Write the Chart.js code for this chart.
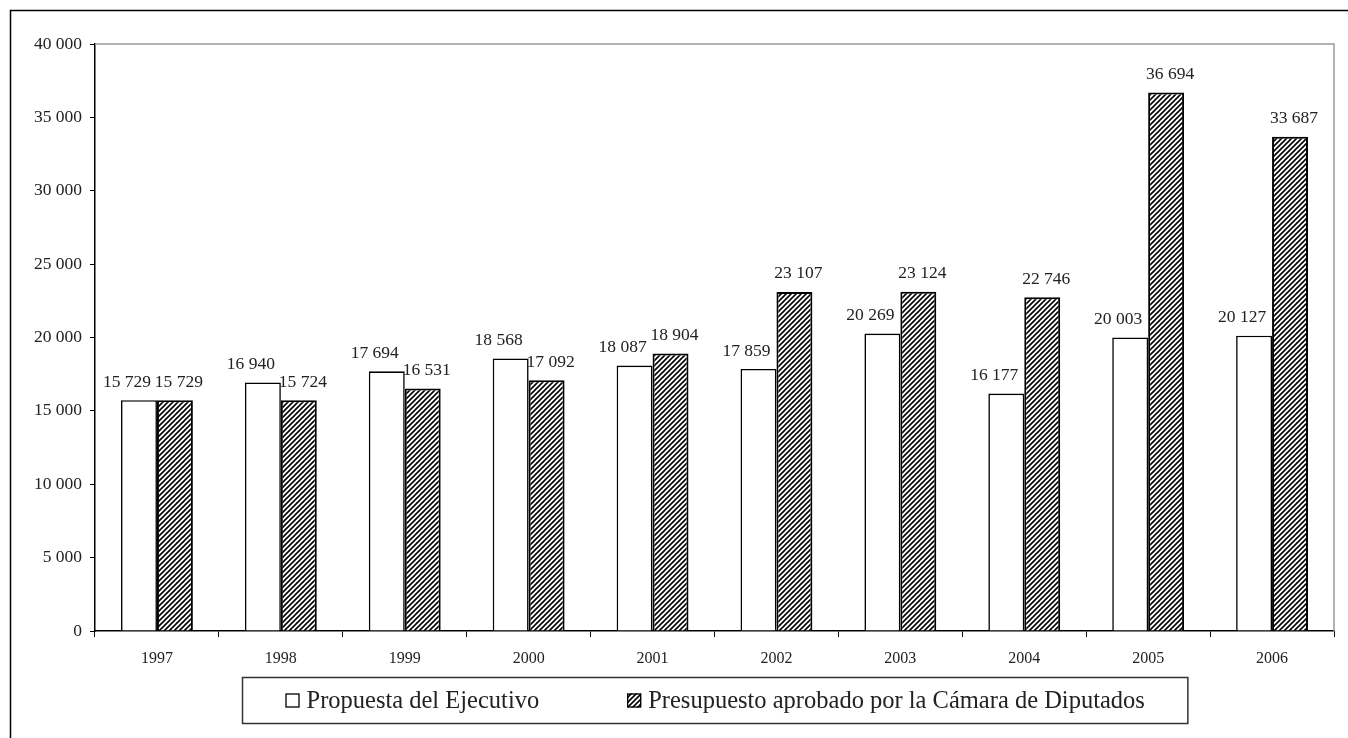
<!DOCTYPE html>
<html>
<head>
<meta charset="utf-8">
<script src="https://cdn.jsdelivr.net/npm/chart.js@4.4.1/dist/chart.umd.min.js"></script>
<style>
  html, body { margin: 0; padding: 0; background: #fff; }
  #wrap { width: 1348px; height: 738px; position: relative; }
</style>
</head>
<body>
<div id="wrap"><canvas id="chart"></canvas></div>
<script>
// Values
const categories = ["1997", "1998", "1999", "2000", "2001", "2002", "2003", "2004", "2005", "2006"]
const propuestaEjecutivo = [15729, 16940, 17694, 18568, 18087, 17859, 20269, 16177, 20003, 20127]
const presupuestoAprobado = [15729, 15724, 16531, 17092, 18904, 23107, 23124, 22746, 36694, 33687]
const seriesLabels = ["Propuesta del Ejecutivo", "Presupuesto aprobado por la Cámara de Diputados"]
const yMin = 0
const yMax = 40000
const yStep = 5000

const serif = "'Liberation Serif', 'Times New Roman', serif"
const textColor = "#222"

// 12345 -> "12 345"
function fmt(v) {
  return String(v).replace(/\B(?=(\d{3})+(?!\d))/g, " ")
}

// diagonal "/" hatch like the Excel pattern fill
function makeHatch() {
  const size = 5
  const c = document.createElement("canvas")
  c.width = size
  c.height = size
  const g = c.getContext("2d")
  g.fillStyle = "#fff"
  g.fillRect(0, 0, size, size)
  g.strokeStyle = "#000"
  g.lineWidth = 1.6
  g.beginPath()
  g.moveTo(-1, size + 1)
  g.lineTo(size + 1, -1)
  g.moveTo(-1, 1)
  g.lineTo(1, -1)
  g.moveTo(size - 1, size + 1)
  g.lineTo(size + 1, size - 1)
  g.stroke()
  return g.createPattern(c, "repeat")
}

const hatch = makeHatch()

// white page, outer frame and grey plot-area border
const framePlugin = {
  id: "frame",
  beforeDraw(chart) {
    const { ctx, width, height } = chart
    ctx.save()
    ctx.fillStyle = "#fff"
    ctx.fillRect(0, 0, width, height)
    ctx.restore()
  },
  afterDraw(chart) {
    const { ctx, width, height, chartArea } = chart
    ctx.save()
    ctx.strokeStyle = "#000"
    ctx.lineWidth = 1.5
    ctx.beginPath()
    ctx.moveTo(10.5, height + 2)
    ctx.lineTo(10.5, 10.5)
    ctx.lineTo(width + 2, 10.5)
    ctx.stroke()

    ctx.strokeStyle = "#9a9a9a"
    ctx.lineWidth = 1.5
    ctx.beginPath()
    ctx.moveTo(chartArea.left, chartArea.top)
    ctx.lineTo(chartArea.right, chartArea.top)
    ctx.lineTo(chartArea.right, chartArea.bottom)
    ctx.stroke()
    ctx.restore()
  }
}

// value labels above each bar, nudged apart like the original
const valueLabels = {
  id: "valueLabels",
  afterDatasetsDraw(chart) {
    const { ctx } = chart
    ctx.save()
    ctx.font = "17.5px " + serif
    ctx.fillStyle = textColor
    ctx.textAlign = "center"
    ctx.textBaseline = "middle"
    chart.data.datasets.forEach((ds, i) => {
      const meta = chart.getDatasetMeta(i)
      const shift = i === 0 ? -12 : 4
      meta.data.forEach((bar, j) => {
        ctx.fillText(fmt(ds.data[j]), bar.x + shift, bar.y - 18)
      })
    })
    ctx.restore()
  }
}

// boxed legend under the axis
const boxedLegend = {
  id: "boxedLegend",
  afterDraw(chart) {
    const { ctx, chartArea } = chart
    const box = 14
    const gap = 7
    const between = 88
    const pad = 43
    ctx.save()
    ctx.font = "24.5px " + serif
    const widths = chart.data.datasets.map(ds => ctx.measureText(ds.label).width)
    const content = widths.reduce((a, w) => a + box + gap + w, 0) + between * (widths.length - 1)
    const frameW = content + pad * 2
    const frameH = 46
    const cx = (chartArea.left + chartArea.right) / 2
    const left = Math.round(cx - frameW / 2) + 0.5
    const top = Math.round(chartArea.bottom + 46) + 0.5

    ctx.strokeStyle = "#333"
    ctx.lineWidth = 1.5
    ctx.strokeRect(left, top, frameW, frameH)

    let x = left + pad
    const midY = top + frameH / 2
    chart.data.datasets.forEach((ds, i) => {
      ctx.fillStyle = ds.backgroundColor
      ctx.fillRect(x, midY - box / 2, box, box)
      ctx.strokeStyle = "#000"
      ctx.lineWidth = 1.3
      ctx.strokeRect(x + 0.5, midY - box / 2 + 0.5, box - 1, box - 1)
      ctx.fillStyle = textColor
      ctx.textAlign = "left"
      ctx.textBaseline = "middle"
      ctx.fillText(ds.label, x + box + gap, midY + 1)
      x += box + gap + widths[i] + between
    })
    ctx.restore()
  }
}

new Chart(document.getElementById("chart"), {
  type: "bar",
  data: {
    labels: categories,
    datasets: [
      {
        label: seriesLabels[0],
        data: propuestaEjecutivo,
        backgroundColor: "#fff",
        borderColor: "#000",
        borderWidth: 1.6
      },
      {
        label: seriesLabels[1],
        data: presupuestoAprobado,
        backgroundColor: hatch,
        borderColor: "#000",
        borderWidth: 2
      }
    ]
  },
  options: {
    responsive: true,
    maintainAspectRatio: false,
    animation: false,
    layout: {
      padding: { left: 10, top: 44, right: 14, bottom: 0 }
    },
    datasets: {
      bar: {
        categoryPercentage: 0.58,
        barPercentage: 1,
        borderSkipped: "bottom"
      }
    },
    plugins: {
      legend: { display: false },
      tooltip: { enabled: false }
    },
    scales: {
      x: {
        grid: {
          display: true,
          drawOnChartArea: false,
          drawTicks: true,
          tickLength: 6,
          color: "#000",
          offset: true
        },
        border: { display: true, color: "#000", width: 1.5 },
        ticks: {
          font: { family: serif, size: 16 },
          color: textColor,
          padding: 12,
          maxRotation: 0
        },
        afterFit(scale) {
          scale.height = 107
        }
      },
      y: {
        min: yMin,
        max: yMax,
        grid: {
          display: true,
          drawOnChartArea: false,
          drawTicks: true,
          tickLength: 5,
          color: "#000"
        },
        border: { display: true, color: "#000", width: 1.5 },
        ticks: {
          stepSize: yStep,
          font: { family: serif, size: 17.5 },
          color: textColor,
          padding: 8,
          callback: v => fmt(v)
        },
        afterFit(scale) {
          scale.width = 85
        }
      }
    }
  },
  plugins: [framePlugin, valueLabels, boxedLegend]
})
</script>
</body>
</html>
